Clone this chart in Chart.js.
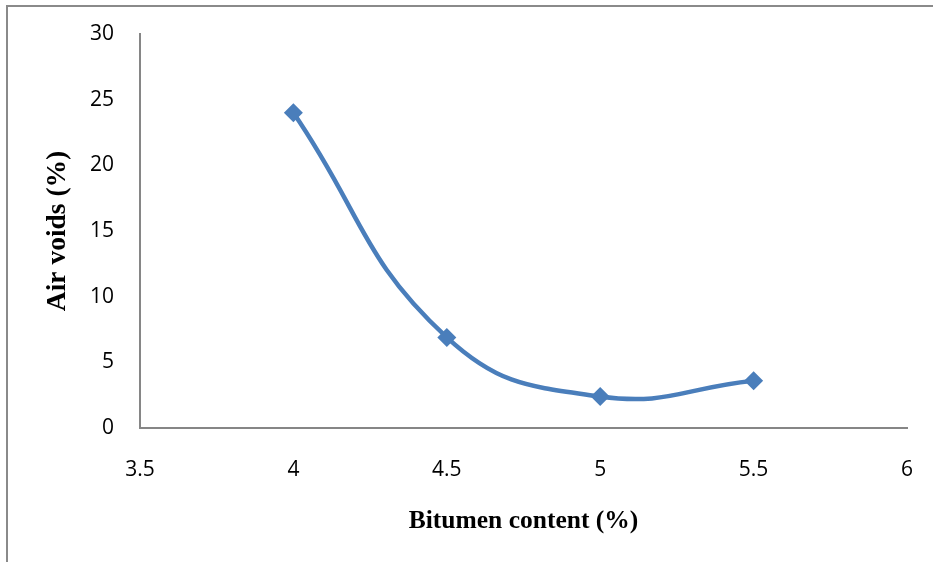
<!DOCTYPE html>
<html>
<head>
<meta charset="utf-8">
<script src="https://cdn.jsdelivr.net/npm/chart.js@4/dist/chart.umd.min.js"></script>
<style>
  html, body { margin: 0; padding: 0; background: #ffffff; }
  #wrap { position: relative; width: 933px; height: 562px; }
</style>
</head>
<body>
<div id="wrap"><canvas id="chart" width="933" height="562"></canvas></div>
<script>
// Bitumen content (%) vs air voids (%)
const bitumenContent = [4, 4.5, 5, 5.5];
const airVoids = [24, 6.9, 2.4, 3.6];
const xTicks = [3.5, 4, 4.5, 5, 5.5, 6];
const yTicks = [0, 5, 10, 15, 20, 25, 30];

const xTitle = 'Bitumen content (%)';
const yTitle = 'Air voids (%)';

const lineBlue = '#4A7EBB';
const axisGray = '#868686';

// Outer frame on the left and top edges
const framePlugin = {
  id: 'frame',
  beforeDraw(chart) {
    const ctx = chart.ctx;
    ctx.save();
    ctx.strokeStyle = '#8a8a8a';
    ctx.lineWidth = 2;
    ctx.beginPath();
    ctx.moveTo(7, chart.height);
    ctx.lineTo(7, 6);
    ctx.lineTo(chart.width, 6);
    ctx.stroke();
    ctx.restore();
  }
};

const tickFont = { family: '"Open Sans", sans-serif', size: 21 };
const xTitleFont = { family: '"Liberation Serif", "Times New Roman", serif', size: 25.5, weight: 'bold', lineHeight: 1.2 };
const yTitleFont = { family: '"Liberation Serif", "Times New Roman", serif', size: 27.5, weight: 'bold', lineHeight: 1.2 };

new Chart(document.getElementById('chart'), {
  type: 'line',
  data: {
    datasets: [{
      data: bitumenContent.map((x, i) => ({ x: x, y: airVoids[i] })),
      borderColor: lineBlue,
      backgroundColor: lineBlue,
      borderWidth: 4.5,
      tension: 0.45,
      pointStyle: 'rectRot',
      pointRadius: 9.5,
      pointBorderWidth: 0,
      pointBackgroundColor: lineBlue,
      fill: false
    }]
  },
  options: {
    responsive: false,
    animation: false,
    devicePixelRatio: 1,
    layout: { padding: { left: 0, top: 34, right: 26, bottom: 0 } },
    plugins: {
      legend: { display: false },
      tooltip: { enabled: false }
    },
    scales: {
      x: {
        type: 'linear',
        min: xTicks[0],
        max: xTicks[xTicks.length - 1],
        afterBuildTicks(scale) { scale.ticks = xTicks.map(v => ({ value: v })); },
        afterFit(scale) {
          scale.height = 134;
          scale.paddingLeft = 0;
          scale.paddingRight = 0;
        },
        grid: { display: false, drawTicks: false },
        border: { display: true, color: axisGray, width: 2 },
        ticks: {
          color: '#000000',
          font: tickFont,
          padding: 29,
          maxRotation: 0,
          autoSkip: false,
          callback: v => String(v)
        },
        title: {
          display: true,
          text: xTitle,
          color: '#000000',
          font: xTitleFont,
          padding: { top: 0, bottom: 25 }
        }
      },
      y: {
        type: 'linear',
        min: yTicks[0],
        max: yTicks[yTicks.length - 1],
        afterBuildTicks(scale) { scale.ticks = yTicks.map(v => ({ value: v })); },
        afterFit(scale) {
          scale.width = 140;
          scale.paddingTop = 0;
          scale.paddingBottom = 0;
        },
        grid: { display: false, drawTicks: false },
        border: { display: true, color: axisGray, width: 2 },
        ticks: {
          color: '#000000',
          font: tickFont,
          padding: 26,
          autoSkip: false,
          callback: v => String(v)
        },
        title: {
          display: true,
          text: yTitle,
          color: '#000000',
          font: yTitleFont,
          padding: { top: 41.5, bottom: 0 }
        }
      }
    }
  },
  plugins: [framePlugin]
});
</script>
</body>
</html>
